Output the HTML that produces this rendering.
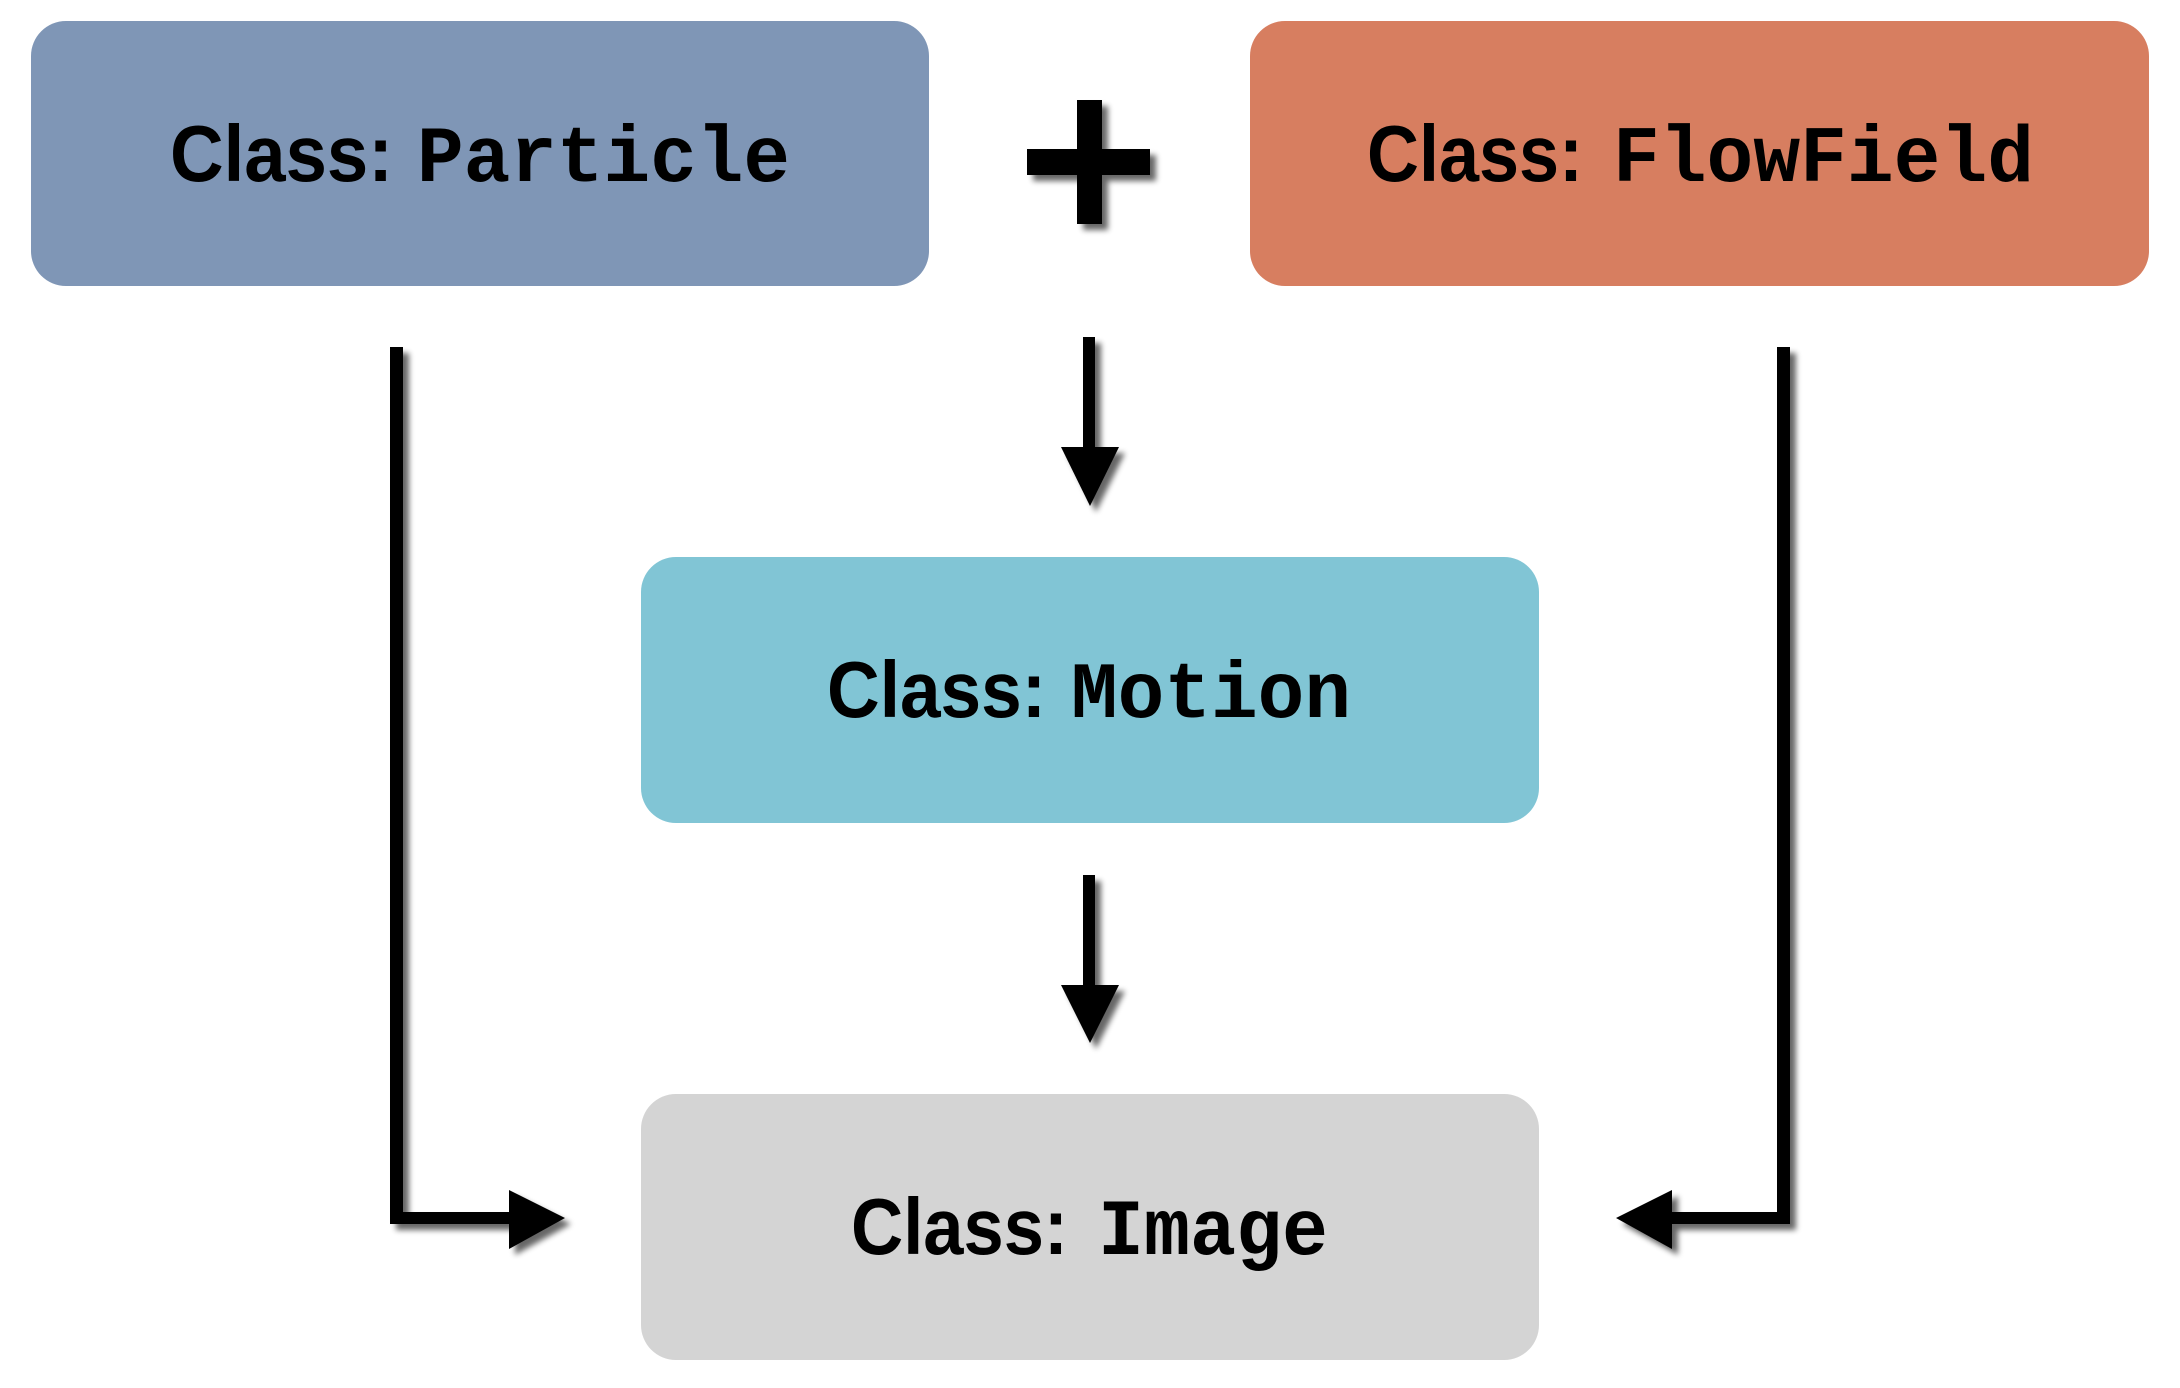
<!DOCTYPE html>
<html><head><meta charset="utf-8"><style>
html,body{margin:0;padding:0;background:#fff;}
svg{display:block;}
.c{font-family:"Liberation Sans",sans-serif;font-weight:bold;font-size:80px;fill:#000;}
.m{font-family:"Liberation Mono",monospace;font-weight:bold;font-size:80px;fill:#000;}
</style></head><body>
<svg width="2180" height="1388" viewBox="0 0 2180 1388" xmlns="http://www.w3.org/2000/svg">
<defs>
<filter id="sh" x="-20%" y="-20%" width="150%" height="150%">
<feGaussianBlur in="SourceAlpha" stdDeviation="3"/>
<feOffset dx="6" dy="6" result="b"/>
<feComponentTransfer><feFuncA type="linear" slope="0.6"/></feComponentTransfer>
<feMerge><feMergeNode/><feMergeNode in="SourceGraphic"/></feMerge>
</filter>
</defs>
<rect x="31" y="21" width="898" height="265" rx="35" fill="#7f96b6"/>
<rect x="1250" y="21" width="899" height="265" rx="35" fill="#d77e60"/>
<rect x="641" y="557" width="898" height="266" rx="35" fill="#81c5d5"/>
<rect x="641" y="1094" width="898" height="266" rx="35" fill="#d4d4d4"/>

<text class="c" x="170" y="181" textLength="223" lengthAdjust="spacingAndGlyphs">Class:</text>
<text class="m" x="417" y="181" textLength="373" lengthAdjust="spacingAndGlyphs">Particle</text>
<text class="c" x="1367" y="181" textLength="216" lengthAdjust="spacingAndGlyphs">Class:</text>
<text class="m" x="1613" y="181" textLength="421" lengthAdjust="spacingAndGlyphs">FlowField</text>
<text class="c" x="827" y="717" textLength="219" lengthAdjust="spacingAndGlyphs">Class:</text>
<text class="m" x="1071" y="717" textLength="280" lengthAdjust="spacingAndGlyphs">Motion</text>
<text class="c" x="851" y="1254" textLength="217" lengthAdjust="spacingAndGlyphs">Class:</text>
<text class="m" x="1098" y="1254" textLength="230" lengthAdjust="spacingAndGlyphs">Image</text>

<g filter="url(#sh)" fill="#000">
<rect x="1077" y="100" width="25" height="124"/>
<rect x="1027" y="149" width="123" height="26"/>
<rect x="1083" y="337" width="12" height="112"/>
<polygon points="1061,447 1119,447 1090,506"/>
<rect x="1083" y="875" width="12" height="112"/>
<polygon points="1061,985 1119,985 1090,1043"/>
<rect x="390" y="347" width="13" height="877"/>
<rect x="390" y="1212" width="122" height="12"/>
<polygon points="509,1190 509,1249 565,1218"/>
<rect x="1777" y="347" width="13" height="877"/>
<rect x="1669" y="1212" width="121" height="12"/>
<polygon points="1672,1190 1672,1249 1616,1218"/>
</g>
</svg>
</body></html>
